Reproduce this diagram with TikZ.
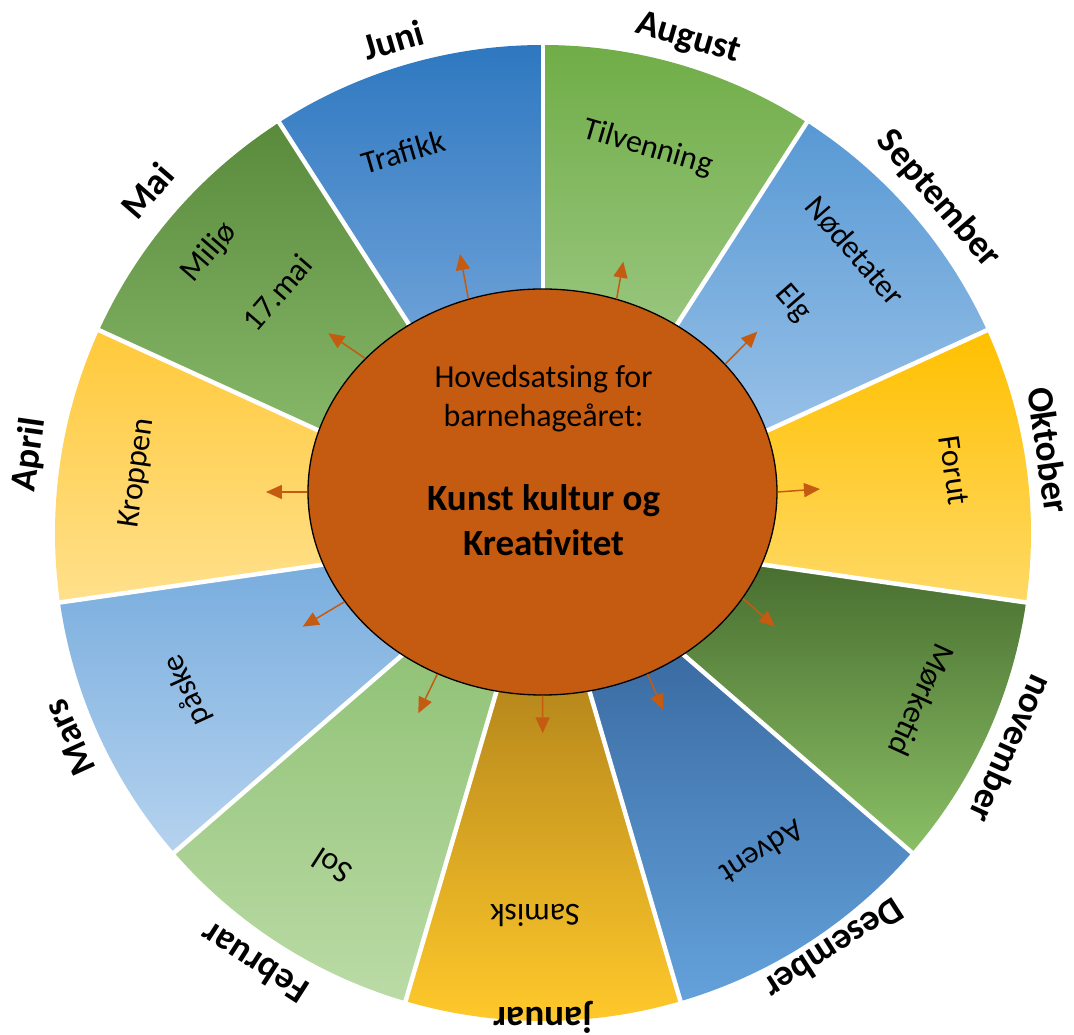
\documentclass[tikz,border=0pt]{standalone}
\usepackage{fontspec}
\setmainfont{Carlito}
\usetikzlibrary{arrows.meta,shapes.geometric}
\definecolor{augT}{HTML}{70AD47}\definecolor{augB}{HTML}{97C57C}
\definecolor{sepT}{HTML}{5899D4}\definecolor{sepB}{HTML}{97C0E7}
\definecolor{oktT}{HTML}{FFC000}\definecolor{oktB}{HTML}{FFD966}
\definecolor{novT}{HTML}{4A7031}\definecolor{novB}{HTML}{8BC066}
\definecolor{desT}{HTML}{3A6BA2}\definecolor{desB}{HTML}{64A2DC}
\definecolor{janT}{HTML}{B8891C}\definecolor{janB}{HTML}{FFC92B}
\definecolor{febT}{HTML}{92C378}\definecolor{febB}{HTML}{BBDBA6}
\definecolor{marT}{HTML}{7AAEDE}\definecolor{marB}{HTML}{B6D3EF}
\definecolor{aprT}{HTML}{FFC93A}\definecolor{aprB}{HTML}{FFE08C}
\definecolor{maiT}{HTML}{5A8A3B}\definecolor{maiB}{HTML}{86B768}
\definecolor{junT}{HTML}{2E78C0}\definecolor{junB}{HTML}{6A9FD7}
\definecolor{ellc}{HTML}{C55A11}
\definecolor{arrc}{HTML}{C55A11}
\tikzset{
  monthlbl/.style={font=\fontsize{37}{44}\selectfont\bfseries, inner sep=0pt},
  topic/.style={font=\fontsize{32}{38}\selectfont, inner sep=0pt},
  maintxt/.style={font=\fontsize{37}{44}\selectfont\bfseries, inner sep=0pt, anchor=base},
  radarrow/.style={draw=arrc, line width=1.5pt, -{Triangle[length=16pt,width=14pt]}},
  sepline/.style={draw=white, line width=4.5pt},
}
\begin{document}
\begin{tikzpicture}[x=1pt,y=1pt]
\useasboundingbox (-543,-502) rectangle (531,533);
% sectors
\foreach \a/\b/\yt/\yb/\ct/\cb in {
  90/57.273/488/213/augT/augB,
  57.273/24.545/408/103/sepT/sepB,
  24.545/-8.182/203/-70/oktT/oktB,
  -8.182/-40.909/-37/-322/novT/novB,
  -40.909/-73.636/-117/-470/desT/desB,
  -73.636/-106.364/-160/-488/janT/janB,
  -106.364/-139.091/-127/-470/febT/febB,
  -139.091/-171.818/-37/-322/marT/marB,
  -171.818/-204.545/203/-70/aprT/aprB,
  -204.545/-237.273/408/103/maiT/maiB,
  -237.273/-270/488/213/junT/junB}{
  \begin{scope}
    \clip (0,0) -- (\a:488) arc[start angle=\a, end angle=\b, radius=488] -- cycle;
    \fill[\ct] (-560,\yt) rectangle (560,600);
    \fill[\cb] (-560,\yb) rectangle (560,-600);
    \shade[top color=\ct, bottom color=\cb] (-560,\yt) rectangle (560,\yb);
  \end{scope}
}
\foreach \t in {90,57.273,24.545,-8.182,-40.909,-73.636,-106.364,-139.091,-171.818,-204.545,-237.273}{
  \draw[sepline] (0,0) -- (\t:492);
}
% centre
\node[ellipse, draw=black, line width=1.3pt, fill=ellc, minimum width=469pt, minimum height=406pt, inner sep=0pt] (core) at (-0.5,41) {};
\node[topic, anchor=base] (c1) at (0.5,145) {Hovedsatsing for};
\node[topic, anchor=base] (c2) at (0.5,106) {barnehageåret:};
\node[maintxt] (c3) at (0.5,22) {Kunst kultur og};
\node[maintxt] (c4) at (0.5,-23) {Kreativitet};
% arrow tips
\coordinate (tJun) at (-83,279);
\coordinate (tAug) at (80.3,271.3);
\coordinate (tSep) at (214.3,201.3);
\coordinate (tOkt) at (277,44);
\coordinate (tNov) at (232,-93.7);
\coordinate (tDes) at (120.3,-177);
\coordinate (tJan) at (-0.3,-200.3);
\coordinate (tFeb) at (-124.7,-180.3);
\coordinate (tMar) at (-240.3,-93.7);
\coordinate (tApr) at (-277,41);
\coordinate (tMai) at (-214.7,199.7);
\draw[radarrow] (core.111.36) -- (tJun);
\draw[radarrow] (core.69.57) -- (tAug);
\draw[radarrow] (core.35.57) -- (tSep);
\draw[radarrow] (core.0) -- (tOkt);
\draw[radarrow] (core.-28.74) -- (tNov);
\draw[radarrow] (core.-60.52) -- (tDes);
\draw[radarrow] (core.-90) -- (tJan);
\draw[radarrow] (core.-120.75) -- (tFeb);
\draw[radarrow] (core.-151.37) -- (tMar);
\draw[radarrow] (core.180) -- (tApr);
\draw[radarrow] (core.143.6) -- (tMai);
% month labels
\node[monthlbl, rotate=16.36] (mJun) at (-150,493) {Juni};
\node[monthlbl, rotate=-16.36] (mAug) at (145,494) {August};
\node[monthlbl, rotate=-49.09] (mSep) at (395.5,334) {September};
\node[monthlbl, rotate=-81.82] (mOkt) at (506,83) {Oktober};
\node[monthlbl, rotate=-114.55] (mNov) at (469,-216) {november};
\node[monthlbl, rotate=-147.27] (mDes) at (291,-416.5) {Desember};
\node[monthlbl, rotate=180] (mJan) at (-0.5,-484.5) {januar};
\node[monthlbl, rotate=147.27] (mFeb) at (-289,-430.5) {Februar};
\node[monthlbl, rotate=114.55] (mMar) at (-473,-204.5) {Mars};
\node[monthlbl, rotate=81.82] (mApr) at (-513,78) {April};
\node[monthlbl, rotate=49.09] (mMai) at (-395.5,342) {Mai};
% topics
\node[topic, rotate=16.36] (pTraf) at (-140,381) {Trafikk};
\node[topic, rotate=-16.36] (pTilv) at (105,385) {Tilvenning};
\node[topic, rotate=-49.09] (pNod) at (312,282) {Nødetater};
\node[topic, rotate=-49.09] (pElg) at (250.7,230) {Elg};
\node[topic, rotate=-81.82] (pFor) at (411,62.5) {Forut};
\node[topic, rotate=-114.55] (pMork) at (378.7,-167) {Mørketid};
\node[topic, rotate=-147.27] (pAdv) at (219.5,-319.5) {Advent};
\node[topic, rotate=180] (pSam) at (-8,-382) {Samisk};
\node[topic, rotate=147.27] (pSol) at (-211,-333) {Sol};
\node[topic, rotate=114.55] (pPask) at (-355.5,-157) {påske};
\node[topic, rotate=81.82] (pKrop) at (-405.5,60) {Kroppen};
\node[topic, rotate=49.09] (pMil) at (-333.5,280.5) {Miljø};
\node[topic, rotate=49.09] (pMai) at (-265.5,240.5) {17.mai};
\end{tikzpicture}
\end{document}
